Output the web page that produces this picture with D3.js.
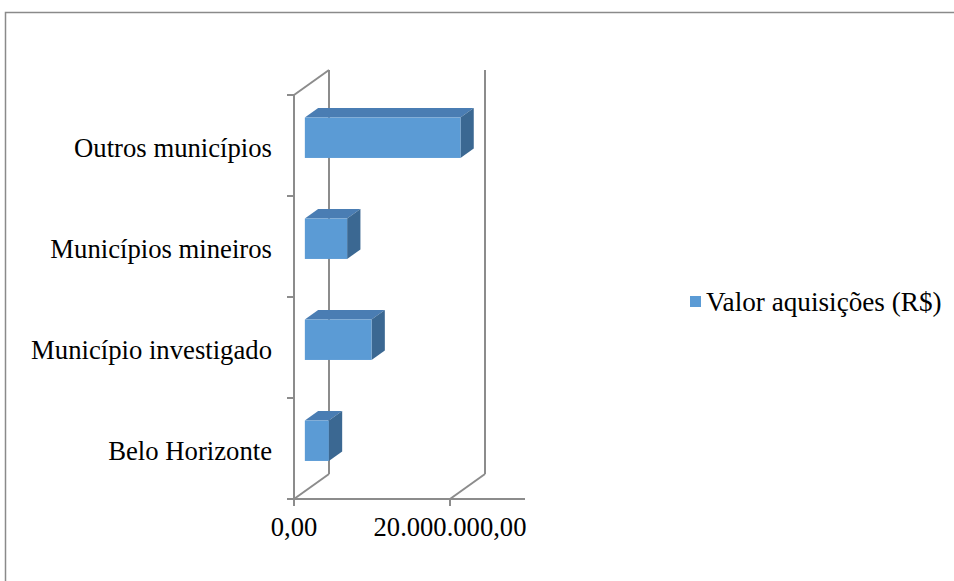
<!DOCTYPE html>
<html>
<head>
<meta charset="utf-8">
<script src="https://cdn.jsdelivr.net/npm/d3@7/dist/d3.min.js"></script>
<style>
  html, body { margin: 0; padding: 0; background: #ffffff; }
  svg { display: block; }
  text { font-family: "Liberation Serif", "Times New Roman", serif; fill: #000; }
</style>
</head>
<body>
<svg id="chart" width="954" height="581"></svg>
<script>
// ---- data ----
const categories = ["Outros municípios", "Municípios mineiros", "Município investigado", "Belo Horizonte"];
const values = [19950000, 5420000, 8550000, 3080000];
const seriesName = "Valor aquisições (R$)";
const xTicks = [0, 20000000];
const xTickLabels = ["0,00", "20.000.000,00"];

// ---- layout ----
const W = 954, H = 581;
const frontLeft = 294, frontTop = 95, frontBottom = 499;
const depthDX = 35, depthDY = -25;          // oblique depth offset of the plot
const barD0 = 0.31, barD1 = 0.69;             // bar depth range (fraction)
const colorFront = "#5b9bd5", colorTop = "#4a7db3", colorSide = "#3b6892";
const gridColor = "#8c8c8c";

const svg = d3.select("#chart");

// outer border
svg.append("rect").attr("x", 5.5).attr("y", 12.5).attr("width", W + 20).attr("height", H + 20)
  .attr("fill", "none").attr("stroke", "#8a8a8a").attr("stroke-width", 1.5);

const x = d3.scaleLinear().domain([0, 20000000]).range([0, 156]);
const y = d3.scaleBand().domain(categories).range([frontTop, frontBottom])
  .paddingInner(0.6).paddingOuter(0.3);
const yStep = d3.scaleBand().domain(categories).range([frontTop, frontBottom]);

const g = svg.append("g");

// back wall / left side wall
g.append("line").attr("x1", frontLeft + depthDX).attr("y1", frontTop + depthDY)
  .attr("x2", frontLeft + depthDX).attr("y2", frontBottom + depthDY)
  .attr("stroke", gridColor).attr("stroke-width", 2);
g.append("line").attr("x1", frontLeft).attr("y1", frontTop)
  .attr("x2", frontLeft + depthDX).attr("y2", frontTop + depthDY)
  .attr("stroke", gridColor).attr("stroke-width", 2);
g.append("line").attr("x1", frontLeft).attr("y1", frontBottom)
  .attr("x2", frontLeft + depthDX).attr("y2", frontBottom + depthDY)
  .attr("stroke", gridColor).attr("stroke-width", 2);

// gridlines (non-zero ticks)
xTicks.filter(t => t > 0).forEach(t => {
  const fx = frontLeft + x(t);
  g.append("line").attr("x1", fx).attr("y1", frontBottom)
    .attr("x2", fx + depthDX).attr("y2", frontBottom + depthDY)
    .attr("stroke", gridColor).attr("stroke-width", 2);
  g.append("line").attr("x1", fx + depthDX).attr("y1", frontBottom + depthDY)
    .attr("x2", fx + depthDX).attr("y2", frontTop + depthDY)
    .attr("stroke", gridColor).attr("stroke-width", 2);
});

// front left axis + floor axis
g.append("line").attr("x1", frontLeft).attr("y1", frontTop).attr("x2", frontLeft).attr("y2", frontBottom)
  .attr("stroke", gridColor).attr("stroke-width", 2);
g.append("line").attr("x1", frontLeft).attr("y1", frontBottom).attr("x2", 525).attr("y2", frontBottom)
  .attr("stroke", gridColor).attr("stroke-width", 2);

// category ticks (boundaries)
const bounds = categories.map(c => yStep(c)).concat([frontBottom]);
bounds.forEach(b => {
  g.append("line").attr("x1", frontLeft - 7).attr("y1", b).attr("x2", frontLeft).attr("y2", b)
    .attr("stroke", gridColor).attr("stroke-width", 2);
});
// value ticks
xTicks.forEach(t => {
  g.append("line").attr("x1", frontLeft + x(t)).attr("y1", frontBottom)
    .attr("x2", frontLeft + x(t)).attr("y2", frontBottom + 7)
    .attr("stroke", gridColor).attr("stroke-width", 2);
});

// bars (3D boxes)
const ox = frontLeft + barD0 * depthDX, oy = barD0 * depthDY;
const bdx = (barD1 - barD0) * depthDX, bdy = (barD1 - barD0) * depthDY;
const bars = g.selectAll(".bar").data(categories.map((c, i) => ({ c, v: values[i] })))
  .enter().append("g").attr("class", "bar");
bars.each(function(d) {
  const sel = d3.select(this);
  const x0 = ox, x1 = ox + x(d.v);
  const y0 = y(d.c) + oy, y1 = y(d.c) + y.bandwidth() + oy;
  // top face
  sel.append("path").attr("d", `M${x0},${y0}L${x0 + bdx},${y0 + bdy}L${x1 + bdx},${y0 + bdy}L${x1},${y0}Z`)
    .attr("fill", colorTop);
  // side face
  sel.append("path").attr("d", `M${x1},${y0}L${x1 + bdx},${y0 + bdy}L${x1 + bdx},${y1 + bdy}L${x1},${y1}Z`)
    .attr("fill", colorSide);
  // front face
  sel.append("rect").attr("x", x0).attr("y", y0).attr("width", x1 - x0).attr("height", y1 - y0)
    .attr("fill", colorFront);
});

// category labels
g.selectAll(".cat").data(categories).enter().append("text")
  .attr("class", "cat")
  .attr("x", 272)
  .attr("y", d => yStep(d) + yStep.bandwidth() / 2 + 11)
  .attr("text-anchor", "end")
  .attr("font-size", 26.7)
  .text(d => d);

// x tick labels
g.selectAll(".xt").data(xTicks).enter().append("text")
  .attr("class", "xt")
  .attr("x", d => frontLeft + x(d))
  .attr("y", 536)
  .attr("text-anchor", "middle")
  .attr("font-size", 26.6)
  .text((d, i) => xTickLabels[i]);

// legend
const lg = svg.append("g");
lg.append("rect").attr("x", 690).attr("y", 296).attr("width", 11).attr("height", 11).attr("fill", colorFront);
lg.append("text").attr("x", 706).attr("y", 311).attr("font-size", 27.2).text(seriesName);
</script>
</body>
</html>
